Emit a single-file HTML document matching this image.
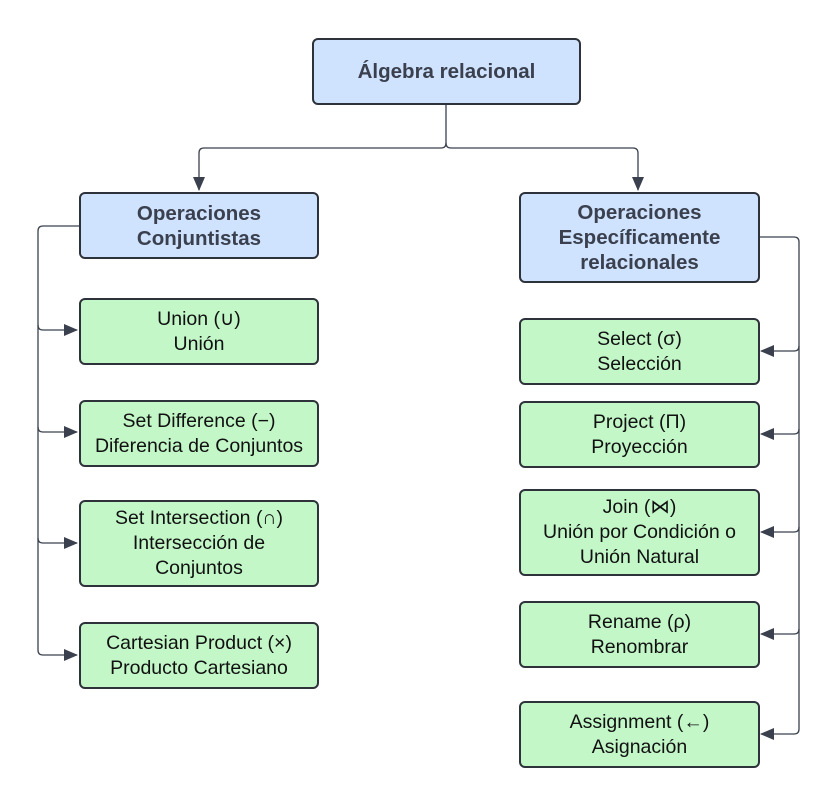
<!DOCTYPE html>
<html><head><meta charset="utf-8"><style>
body{margin:0;background:#fff;width:839px;height:805px;overflow:hidden;position:relative;font-family:"Liberation Sans",sans-serif}
.b{position:absolute;box-sizing:border-box;border:2px solid #2e323a;border-radius:6px;display:flex;align-items:center;justify-content:center;text-align:center;line-height:25px}
.h{background:#cfe2fe;color:#3a404d;font-weight:bold;font-size:20.5px}
.g{background:#c3f7c8;color:#111;font-size:19.5px}
svg{position:absolute;left:0;top:0}
</style></head><body>
<svg width="839" height="805">
<defs><marker id="a" markerWidth="14" markerHeight="12" refX="13" refY="6" orient="auto" markerUnits="userSpaceOnUse"><path d="M0,0L14,6L0,12Z" fill="#3a404d"/></marker></defs>
<g fill="none" stroke="#3a404d" stroke-width="1.3">
<path d="M446,104V143q0,5 -5,5H204q-5,0 -5,5V190" marker-end="url(#a)"/>
<path d="M446,143q0,5 5,5H633q5,0 5,5V190" marker-end="url(#a)"/>
<path d="M79,226H43q-5,0 -5,5V650q0,5 5,5H77" marker-end="url(#a)"/>
<path d="M38,325q0,5 5,5H77" marker-end="url(#a)"/>
<path d="M38,427q0,5 5,5H77" marker-end="url(#a)"/>
<path d="M38,538q0,5 5,5H77" marker-end="url(#a)"/>
<path d="M759,237H794q5,0 5,5V729q0,5 -5,5H761" marker-end="url(#a)"/>
<path d="M799,346q0,5 -5,5H761" marker-end="url(#a)"/>
<path d="M799,429q0,5 -5,5H761" marker-end="url(#a)"/>
<path d="M799,527q0,5 -5,5H761" marker-end="url(#a)"/>
<path d="M799,629q0,5 -5,5H761" marker-end="url(#a)"/>
</g></svg>
<div class="b h" style="left:312px;top:38px;width:269px;height:67px">Álgebra relacional</div>
<div class="b h" style="left:79px;top:192px;width:240px;height:67px">Operaciones<br>Conjuntistas</div>
<div class="b h" style="left:519px;top:192px;width:241px;height:91px">Operaciones<br>Específicamente<br>relacionales</div>
<div class="b g" style="left:79px;top:298px;width:240px;height:67px">Union (∪)<br>Unión</div>
<div class="b g" style="left:79px;top:400px;width:240px;height:67px">Set Difference (−)<br>Diferencia de Conjuntos</div>
<div class="b g" style="left:79px;top:500px;width:240px;height:87px">Set Intersection (∩)<br>Intersección de<br>Conjuntos</div>
<div class="b g" style="left:79px;top:622px;width:240px;height:67px">Cartesian Product (×)<br>Producto Cartesiano</div>
<div class="b g" style="left:519px;top:318px;width:241px;height:67px">Select (σ)<br>Selección</div>
<div class="b g" style="left:519px;top:401px;width:241px;height:67px">Project (Π)<br>Proyección</div>
<div class="b g" style="left:519px;top:489px;width:241px;height:87px">Join (⋈)<br>Unión por Condición o<br>Unión Natural</div>
<div class="b g" style="left:519px;top:601px;width:241px;height:67px">Rename (ρ)<br>Renombrar</div>
<div class="b g" style="left:519px;top:701px;width:241px;height:67px">Assignment (←)<br>Asignación</div>
</body></html>
